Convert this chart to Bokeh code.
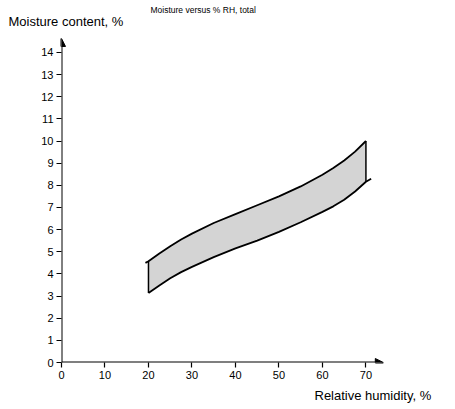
from bokeh.plotting import figure
from bokeh.models import Range1d, FixedTicker, Arrow, NormalHead, Title
from bokeh.embed import file_html
from bokeh.resources import INLINE

# Data
rh = [20, 22.5, 25, 27.5, 30, 35, 40, 45, 50, 55, 60, 62.5, 65, 67.5, 70]
upper = [4.57, 4.92, 5.25, 5.55, 5.82, 6.3, 6.7, 7.1, 7.5, 7.95, 8.48, 8.78, 9.12, 9.52, 10.0]
lower = [3.14, 3.48, 3.8, 4.08, 4.32, 4.76, 5.15, 5.5, 5.9, 6.33, 6.8, 7.05, 7.35, 7.72, 8.16]
upper_start = (19.3, 4.5)
lower_end = (71.2, 8.3)
x_ticks = [0, 10, 20, 30, 40, 50, 60, 70]
y_ticks = list(range(0, 15))

FONT = "Liberation Sans"

p = figure(width=440, height=407, output_backend="svg", toolbar_location=None,
           x_range=Range1d(0, 74.5), y_range=Range1d(0, 15.08),
           min_border_left=61, min_border_right=55, min_border_top=28, min_border_bottom=45)
p.outline_line_color = None
p.xgrid.visible = False
p.ygrid.visible = False
p.background_fill_color = "white"
p.border_fill_color = "white"

for ax, ticks in ((p.xaxis[0], x_ticks), (p.yaxis[0], y_ticks)):
    ax.ticker = FixedTicker(ticks=ticks)
    ax.axis_line_color = None
    ax.major_tick_line_color = "black"
    ax.major_tick_line_width = 1.2
    ax.major_tick_out = 5
    ax.major_tick_in = 0
    ax.minor_tick_line_color = None
    ax.major_label_text_font = FONT
    ax.major_label_text_font_size = "11px"
    ax.major_label_text_color = "black"
    ax.major_label_standoff = 3

# band
px = rh + rh[::-1]
py = upper + lower[::-1]
p.patch(px, py, fill_color="#d4d4d4", line_color=None)
p.line([upper_start[0]] + rh, [upper_start[1]] + upper, line_color="black", line_width=1.8,
       line_join="round")
p.line(rh + [lower_end[0]], lower + [lower_end[1]], line_color="black", line_width=1.8,
       line_join="round")
p.segment(x0=[rh[0], rh[-1]], y0=[lower[0], lower[-1]], x1=[rh[0], rh[-1]], y1=[upper[0], upper[-1]],
          line_color="black", line_width=1.5)

# axes with arrows
p.add_layout(Arrow(x_start=0, y_start=0, x_end=74.0, y_end=0, line_width=2, line_color="black",
                   end=NormalHead(size=8, fill_color="black", line_color="black")))
p.add_layout(Arrow(x_start=0, y_start=0, x_end=0, y_end=14.63, line_width=2, line_color="black",
                   end=NormalHead(size=8, fill_color="black", line_color="black")))

t1 = Title(text="Moisture content, %", align="left", offset=-53, standoff=0,
           text_font=FONT, text_font_size="13px", text_font_style="normal", text_color="black")
t2 = Title(text="Moisture versus % RH, total", align="left", offset=89, standoff=-6,
           text_font=FONT, text_font_size="8.5px", text_font_style="normal", text_color="black")
p.add_layout(t1, "above")
p.add_layout(t2, "above")
t3 = Title(text="Relative humidity, %", align="left", offset=253, standoff=8,
           text_font=FONT, text_font_size="13px", text_font_style="normal", text_color="black")
p.add_layout(t3, "below")

open("out.html", "w").write(file_html(p, INLINE))
